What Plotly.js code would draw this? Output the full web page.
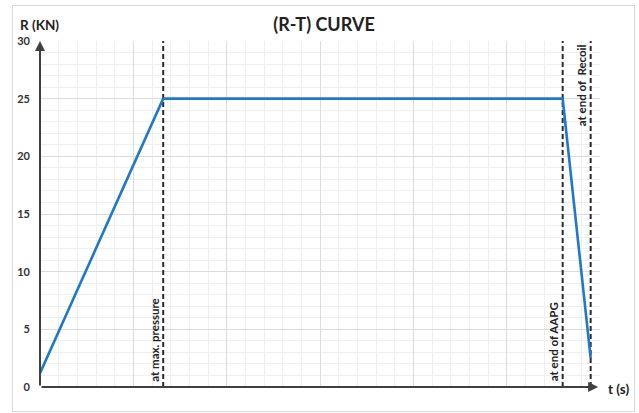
<!DOCTYPE html>
<html>
<head>
<meta charset="utf-8">
<script src="https://cdn.plot.ly/plotly-3.0.1.min.js"></script>
<style>
  html, body { margin: 0; padding: 0; background: #fff; }
  #wrap { position: relative; width: 639px; height: 413px; }
  #frame { position: absolute; left: 12px; top: 5px; width: 621px; height: 405px; border: 1px solid #d9d9d9; pointer-events: none; z-index: 5; }
  #chart { position: absolute; left: 0; top: 0; width: 639px; height: 413px; }
</style>
</head>
<body>
<div id="wrap">
  <div id="chart"></div>
  <div id="frame"></div>
</div>
<script>
// Data
const timeT = [0, 6.6, 28, 29.5];
const forceR = [1.2, 25, 25, 2.5];
const eventT = [6.6, 28, 29.5];
const eventLabels = ["at max. pressure", "at end of AAPG", "at end of  Recoil"];
const eventLabelPos = ["bottom", "bottom", "top"];
const yTicks = [0, 5, 10, 15, 20, 25, 30];
const xMax = 30, yMax = 30;

const FONT = "Lato, 'Open Sans', sans-serif";
const traces = [];

eventT.forEach(function (t) {
  traces.push({
    x: [t, t], y: [0, yMax], mode: "lines", type: "scatter",
    line: { color: "#2b2b2b", width: 2, dash: "5px,3px" },
    hoverinfo: "skip", showlegend: false
  });
});

traces.push({
  x: timeT, y: forceR, mode: "lines", type: "scatter",
  line: { color: "#1f78c8", width: 2.6 },
  showlegend: false
});

const L = 40, R = 39, T = 41, B = 26, W = 639, H = 413;
const pw = W - L - R, ph = H - T - B;
function px2paperX(px) { return (px - L) / pw; }
function px2paperY(py) { return (H - B - py) / ph; }

const annotations = [];
eventT.forEach(function (t, i) {
  const bottom = eventLabelPos[i] === "bottom";
  annotations.push({
    x: t, y: bottom ? 0.3 : yMax - 0.1, xref: "x", yref: "y",
    text: "<b>" + eventLabels[i] + "</b>", textangle: -90,
    showarrow: false, xanchor: "right", yanchor: bottom ? "bottom" : "top",
    xshift: -1,
    font: { family: FONT, size: 11.5, color: "#222222" }
  });
});
// axis arrows
annotations.push({
  x: 0, y: yMax, ax: 0, ay: 0, xref: "x", yref: "y", axref: "x", ayref: "y",
  text: "", showarrow: true, arrowhead: 2, arrowsize: 1, arrowwidth: 2, arrowcolor: "#404040"
});
annotations.push({
  x: xMax - 0.1, y: 0, ax: 0, ay: 0, xref: "x", yref: "y", axref: "x", ayref: "y",
  text: "", showarrow: true, arrowhead: 2, arrowsize: 1, arrowwidth: 2, arrowcolor: "#404040"
});
annotations.push({
  x: px2paperX(606), y: px2paperY(389), xref: "paper", yref: "paper", text: "<b>t (s)</b>",
  showarrow: false, xanchor: "left", yanchor: "middle",
  font: { family: FONT, size: 13.5, color: "#222" }
});
annotations.push({
  x: px2paperX(18), y: px2paperY(25), xref: "paper", yref: "paper",
  text: "<b>R (KN)</b>", showarrow: false, xanchor: "left", yanchor: "middle",
  font: { family: FONT, size: 13.5, color: "#222" }
});

const layout = {
  width: W, height: H,
  margin: { l: L, r: R, t: T, b: B },
  paper_bgcolor: "rgba(0,0,0,0)", plot_bgcolor: "#ffffff",
  title: {
    text: "<b>(R-T) CURVE</b>", x: 324 / 639, xref: "container", xanchor: "center",
    y: 1 - 25 / 413, yref: "container", yanchor: "middle",
    font: { family: FONT, size: 18, color: "#222222" }
  },
  xaxis: {
    range: [0, xMax], showticklabels: false, ticks: "",
    dtick: 5, showgrid: true, gridcolor: "#dcdcdc", gridwidth: 1,
    minor: { dtick: 1, showgrid: true, gridcolor: "#efefef", gridwidth: 1 },
    zeroline: false, showline: false, fixedrange: true
  },
  yaxis: {
    range: [0, yMax], tickvals: yTicks, ticks: "",
    tickfont: { family: FONT, size: 11, color: "#333333", weight: "bold" },
    ticklabelstandoff: 9,
    showgrid: true, gridcolor: "#dcdcdc", gridwidth: 1,
    minor: { dtick: 1, showgrid: true, gridcolor: "#efefef", gridwidth: 1 },
    zeroline: false, showline: false, fixedrange: true
  },
  annotations: annotations,
  showlegend: false
};

Plotly.newPlot("chart", traces, layout, { displayModeBar: false, staticPlot: true });
</script>
</body>
</html>
